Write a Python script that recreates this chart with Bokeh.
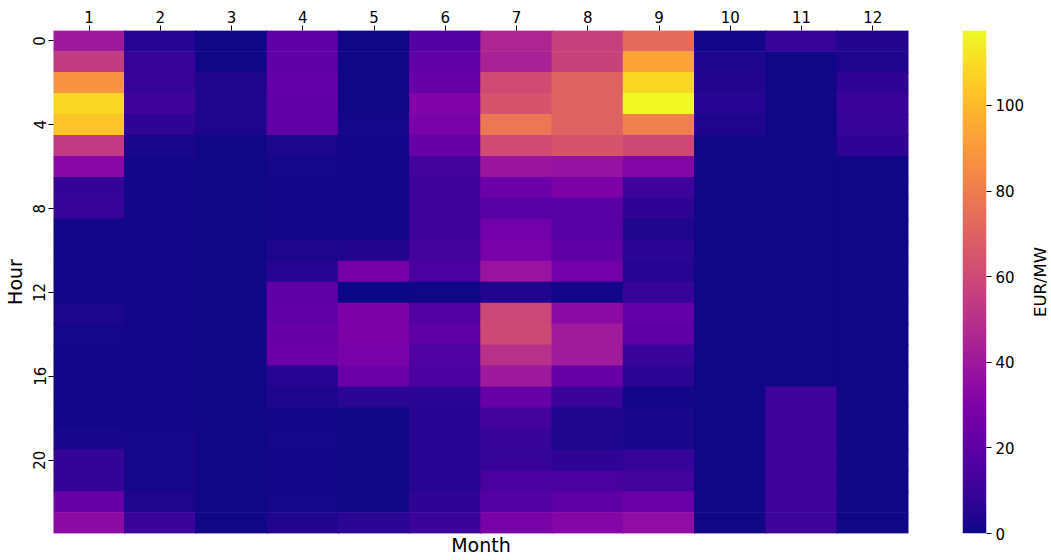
import numpy as np
from bokeh.plotting import figure
from bokeh.models import (LinearColorMapper, FixedTicker, Range1d, LinearAxis,
                          ColumnDataSource)
from bokeh.palettes import Plasma256
from bokeh.layouts import row
from bokeh.embed import file_html
from bokeh.resources import INLINE

# ---- data (EUR/MW by month, hours 0..23) ----
months = list(range(1, 13))
hours = list(range(24))
m01 = [40, 55, 88, 108, 103, 54, 33, 8, 9, 1, 1, 1, 1, 2.5, 1.5, 1, 1, 1, 1, 2, 8, 8, 23, 34]
m02 = [5, 9, 9, 11, 7, 2, 1, 1, 1, 1, 1, 1, 1, 1, 1, 1, 1, 1, 1, 1.5, 1.5, 1.5, 3, 10]
m03 = [0.5, 0.5, 3, 3, 3, 0.5, 0.5, 0.5, 0.5, 0.5, 0.5, 0.5, 0.5, 0.5, 0.5, 0.5, 0.5, 0.5, 0.5, 0.5, 0.5, 0.5, 0.5, 0.5]
m04 = [20, 20, 22, 21, 21, 2.5, 1.5, 1, 1, 1, 3, 5, 20, 21, 23, 24, 5, 3, 1, 1.5, 1, 1, 1.5, 4]
m05 = [0.5, 0.5, 0.5, 0.5, 1.5, 1, 1, 1, 1, 1, 4, 27, 0, 29, 29, 28, 24, 6, 0.5, 0.5, 0.5, 0.5, 0.5, 6]
m06 = [17, 21, 23, 30, 28, 23, 13, 11, 11, 11, 13, 14, 0.5, 17, 20, 16, 15, 6, 5.5, 5, 5, 5, 7, 10]
m07 = [45, 44, 61, 64, 78, 61, 39, 24, 18, 26, 28, 38, 4, 59, 60, 50, 40, 23, 13, 9, 9, 14, 17, 28]
m08 = [56, 57, 70, 70, 70, 64, 37, 29, 18, 18, 20, 26, 1, 34, 41, 41, 23, 10, 3.5, 3, 7, 14, 20, 32]
m09 = [73, 93, 108, 117.5, 81, 60, 32, 11, 7, 3, 6, 5, 9, 22, 20, 10, 6, 1, 2, 2, 9, 12, 24, 35]
m10 = [1, 3, 4, 5, 3.5, 0.5, 0.5, 0.5, 0.5, 0.5, 0.5, 0.5, 0.5, 0.5, 0.5, 0.5, 0.5, 0.5, 0.5, 0.5, 0.5, 0.5, 0.5, 0.5]
m11 = [9, 0.5, 0.5, 0.5, 0.5, 0.5, 0.5, 0.5, 0.5, 0.5, 0.5, 0.5, 0.5, 0.5, 0.5, 0.5, 0.5, 11, 11, 11, 11, 11, 11, 11]
m12 = [4, 3.5, 7, 10, 9, 7, 0.5, 0.5, 0.5, 0.5, 0.5, 0.5, 0.5, 0.5, 0.5, 0.5, 0.5, 0.5, 0.5, 0.5, 0.5, 0.5, 0.5, 0.5]
monthly = [m01, m02, m03, m04, m05, m06, m07, m08, m09, m10, m11, m12]
hour_ticks = [0, 4, 8, 12, 16, 20]
cbar_ticks = [0, 20, 40, 60, 80, 100]
value_label = "EUR/MW"

xs, ys, vs = [], [], []
for m, col in zip(months, monthly):
    for h, val in zip(hours, col):
        xs.append(m - 0.5)
        ys.append(h + 0.5)
        vs.append(val)
vmax = max(vs)
src = ColumnDataSource(dict(x=xs, y=ys, v=vs))
mapper = LinearColorMapper(palette=Plasma256, low=0, high=vmax)

FONT = "DejaVu Sans"
TICK_SIZE = "15px"
LABEL_SIZE = "19px"

p = figure(width=930, height=560, x_range=Range1d(0, 12), y_range=Range1d(24, 0),
           x_axis_location="above", output_backend="svg", toolbar_location=None,
           min_border_left=53, min_border_right=22, min_border_top=30,
           min_border_bottom=27, background_fill_color="white",
           border_fill_color="white")
p.outline_line_color = None
p.grid.visible = False
p.rect(x="x", y="y", width=1.02, height=1.03, source=src,
       fill_color={"field": "v", "transform": mapper}, line_color=None)

def style_axis(ax):
    ax.axis_line_color = None
    ax.major_tick_in = 0
    ax.major_tick_out = 5
    ax.minor_tick_line_color = None
    ax.major_tick_line_color = "black"
    ax.major_label_text_font = FONT
    ax.major_label_text_font_size = TICK_SIZE
    ax.major_label_text_color = "black"
    ax.axis_label_text_font = FONT
    ax.axis_label_text_font_size = LABEL_SIZE
    ax.axis_label_text_font_style = "normal"
    ax.axis_label_text_color = "black"

xa = p.xaxis[0]
style_axis(xa)
xa.ticker = FixedTicker(ticks=[m - 0.5 for m in months])
xa.major_label_overrides = {m - 0.5: str(m) for m in months}
xa.major_label_standoff = 3

ya = p.yaxis[0]
style_axis(ya)
ya.ticker = FixedTicker(ticks=[h + 0.5 for h in hour_ticks])
ya.major_label_overrides = {h + 0.5: str(h) for h in hour_ticks}
ya.major_label_orientation = "vertical"
ya.major_label_standoff = 3
ya.axis_label = "Hour"
ya.axis_label_standoff = 5

bottom = LinearAxis(ticker=FixedTicker(ticks=[]), axis_label="Month")
style_axis(bottom)
bottom.major_tick_out = 0
bottom.axis_label_standoff = 0
bottom.major_label_standoff = 0
p.add_layout(bottom, "below")

# ---- colour bar as its own narrow figure ----
cb = figure(width=97, height=560, x_range=Range1d(0, 1), y_range=Range1d(0, vmax),
            y_axis_location="right", output_backend="svg", toolbar_location=None,
            min_border_left=32, min_border_right=40, min_border_top=30,
            min_border_bottom=27, background_fill_color="white",
            border_fill_color="white")
cb.outline_line_color = None
cb.grid.visible = False
cb.xaxis.visible = False
grad = np.linspace(0, vmax, 256).reshape(256, 1)
cb.image(image=[grad], x=0, y=0, dw=1, dh=vmax, color_mapper=mapper)
ca = cb.yaxis[0]
style_axis(ca)
ca.ticker = FixedTicker(ticks=cbar_ticks)
ca.major_label_standoff = 4

# ---- colour bar label (left axis of a thin figure, reads bottom-to-top) ----
lf = figure(width=24, height=560, x_range=Range1d(0, 1), y_range=Range1d(0, 1),
            output_backend="svg", toolbar_location=None,
            min_border_left=22, min_border_right=0, min_border_top=30,
            min_border_bottom=27, background_fill_color="white",
            border_fill_color="white")
lf.outline_line_color = None
lf.grid.visible = False
lf.xaxis.visible = False
la = lf.yaxis[0]
style_axis(la)
la.ticker = FixedTicker(ticks=[])
la.major_tick_out = 0
la.major_label_standoff = 0
la.axis_label = value_label
la.axis_label_text_font_size = "16.5px"
la.axis_label_standoff = 0

layout = row(p, cb, lf)
open("out.html", "w").write(file_html(layout, INLINE))
